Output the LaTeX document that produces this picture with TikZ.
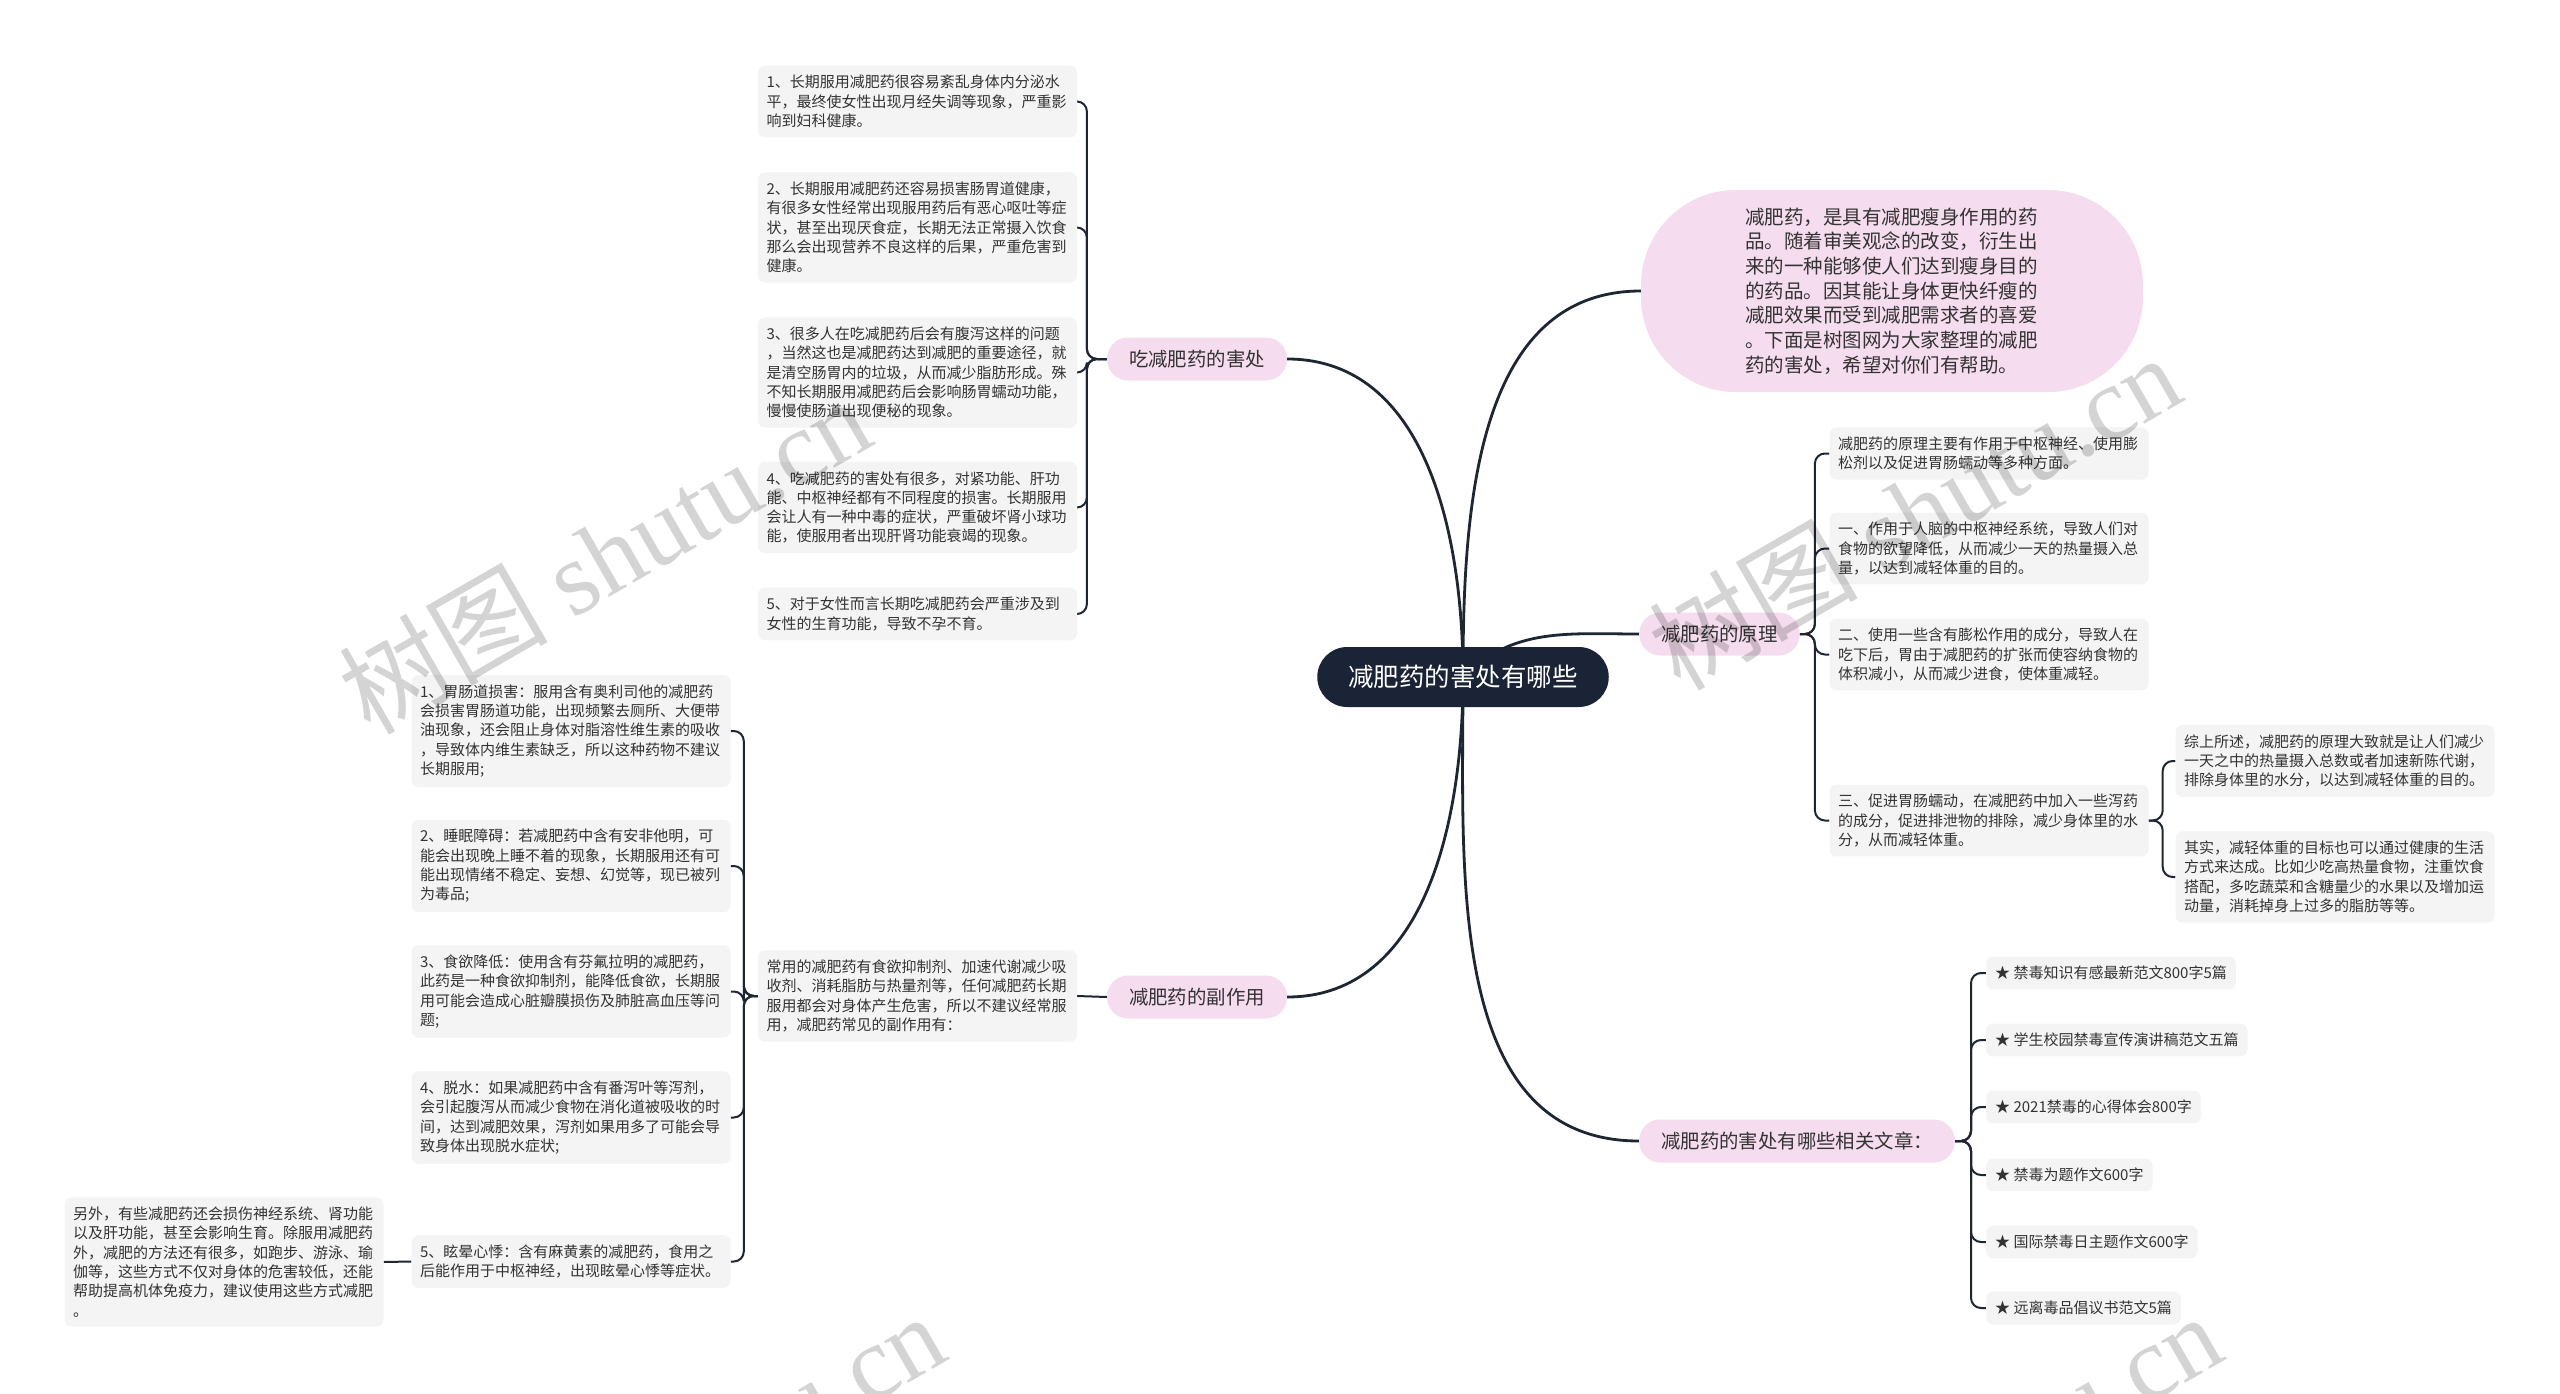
\documentclass[tikz,border=0pt]{standalone}
\usepackage{fontspec}
\setmainfont{Noto Sans CJK SC}
\newfontfamily\wmserif{Liberation Serif}
\usepackage{xcolor}
\usepackage{tikz}
\usetikzlibrary{positioning, backgrounds, calc}
\definecolor{navy}{HTML}{1A2436}
\definecolor{pinkbg}{HTML}{F5DCEE}
\definecolor{leafbg}{HTML}{F4F4F4}
\definecolor{txt}{HTML}{333333}
\definecolor{linec}{HTML}{1E2633}

\begin{document}
\begin{tikzpicture}[
    x=1pt, y=-1pt,
    root/.style={rectangle, fill=navy, text=white, rounded corners=30pt, minimum height=60pt, inner xsep=31pt, font=\fontsize{25.5}{30}\selectfont},
    mid/.style={rectangle, fill=pinkbg, text=txt, rounded corners=21pt, minimum height=43pt, inner xsep=22pt, font=\fontsize{19.4}{24}\selectfont},
    intro/.style={rectangle, fill=pinkbg, text=txt, rounded corners=95pt, minimum width=502pt, minimum height=202pt, text width=294pt, align=left, font=\fontsize{19.5}{24.7}\selectfont},
    leaf/.style={rectangle, fill=leafbg, text=txt, rounded corners=7pt, inner xsep=8.5pt, inner ysep=9.5pt, text width=302pt, align=left, font=\fontsize{15}{19.3}\selectfont},
    linkbox/.style={rectangle, fill=leafbg, text=txt, rounded corners=7pt, inner xsep=9pt, inner ysep=9.5pt, anchor=west, font=\fontsize{15}{19.3}\selectfont},
    trunk/.style={draw=linec, line width=2.8pt},
    twig/.style={draw=linec, line width=2pt, rounded corners=10pt},
    wmark/.style={text=black, opacity=0.17, rotate=30, font=\fontsize{105}{105}\selectfont}
]
\useasboundingbox (0,0) rectangle (2560,1394);

\node[root] (main) at (1463,677) {减肥药的害处有哪些};

\node[mid] (eat) at (1197,359) {吃减肥药的害处};
\node[leaf] (eat1) at (917.5,101.5) {1、长期服用减肥药很容易紊乱身体内分泌水\\平，最终使女性出现月经失调等现象，严重影\\响到妇科健康。};
\node[leaf] (eat2) at (917.5,227.5) {2、长期服用减肥药还容易损害肠胃道健康，\\有很多女性经常出现服用药后有恶心呕吐等症\\状，甚至出现厌食症，长期无法正常摄入饮食\\那么会出现营养不良这样的后果，严重危害到\\健康。};
\node[leaf] (eat3) at (917.5,372.5) {3、很多人在吃减肥药后会有腹泻这样的问题\\，当然这也是减肥药达到减肥的重要途径，就\\是清空肠胃内的垃圾，从而减少脂肪形成。殊\\不知长期服用减肥药后会影响肠胃蠕动功能，\\慢慢使肠道出现便秘的现象。};
\node[leaf] (eat4) at (917.5,507.5) {4、吃减肥药的害处有很多，对紧功能、肝功\\能、中枢神经都有不同程度的损害。长期服用\\会让人有一种中毒的症状，严重破坏肾小球功\\能，使服用者出现肝肾功能衰竭的现象。};
\node[leaf] (eat5) at (917.5,614) {5、对于女性而言长期吃减肥药会严重涉及到\\女性的生育功能，导致不孕不育。};

\node[mid] (side) at (1197,997) {减肥药的副作用};
\node[leaf] (info) at (917.5,996) {常用的减肥药有食欲抑制剂、加速代谢减少吸\\收剂、消耗脂肪与热量剂等，任何减肥药长期\\服用都会对身体产生危害，所以不建议经常服\\用，减肥药常见的副作用有：};
\node[leaf] (side1) at (571,731) {1、胃肠道损害：服用含有奥利司他的减肥药\\会损害胃肠道功能，出现频繁去厕所、大便带\\油现象，还会阻止身体对脂溶性维生素的吸收\\，导致体内维生素缺乏，所以这种药物不建议\\长期服用;};
\node[leaf] (side2) at (571,866) {2、睡眠障碍：若减肥药中含有安非他明，可\\能会出现晚上睡不着的现象，长期服用还有可\\能出现情绪不稳定、妄想、幻觉等，现已被列\\为毒品;};
\node[leaf] (side3) at (571,991.5) {3、食欲降低：使用含有芬氟拉明的减肥药，\\此药是一种食欲抑制剂，能降低食欲，长期服\\用可能会造成心脏瓣膜损伤及肺脏高血压等问\\题;};
\node[leaf] (side4) at (571,1117.5) {4、脱水：如果减肥药中含有番泻叶等泻剂，\\会引起腹泻从而减少食物在消化道被吸收的时\\间，达到减肥效果，泻剂如果用多了可能会导\\致身体出现脱水症状;};
\node[leaf] (side5) at (571,1261.5) {5、眩晕心悸：含有麻黄素的减肥药，食用之\\后能作用于中枢神经，出现眩晕心悸等症状。};
\node[leaf] (other) at (224,1262) {另外，有些减肥药还会损伤神经系统、肾功能\\以及肝功能，甚至会影响生育。除服用减肥药\\外，减肥的方法还有很多，如跑步、游泳、瑜\\伽等，这些方式不仅对身体的危害较低，还能\\帮助提高机体免疫力，建议使用这些方式减肥\\。};

\node[intro] (lead) at (1892,291) {减肥药，是具有减肥瘦身作用的药\\品。随着审美观念的改变，衍生出\\来的一种能够使人们达到瘦身目的\\的药品。因其能让身体更快纤瘦的\\减肥效果而受到减肥需求者的喜爱\\。下面是树图网为大家整理的减肥\\药的害处，希望对你们有帮助。};

\node[mid] (prin) at (1719.5,634) {减肥药的原理};
\node[leaf] (prin1) at (1989,453.5) {减肥药的原理主要有作用于中枢神经、使用膨\\松剂以及促进胃肠蠕动等多种方面。};
\node[leaf] (prin2) at (1989,548.5) {一、作用于人脑的中枢神经系统，导致人们对\\食物的欲望降低，从而减少一天的热量摄入总\\量，以达到减轻体重的目的。};
\node[leaf] (prin3) at (1989,654.5) {二、使用一些含有膨松作用的成分，导致人在\\吃下后，胃由于减肥药的扩张而使容纳食物的\\体积减小，从而减少进食，使体重减轻。};
\node[leaf] (prin4) at (1989,820.5) {三、促进胃肠蠕动，在减肥药中加入一些泻药\\的成分，促进排泄物的排除，减少身体里的水\\分，从而减轻体重。};
\node[leaf] (sum1) at (2335,761) {综上所述，减肥药的原理大致就是让人们减少\\一天之中的热量摄入总数或者加速新陈代谢，\\排除身体里的水分，以达到减轻体重的目的。};
\node[leaf] (sum2) at (2335,877) {其实，减轻体重的目标也可以通过健康的生活\\方式来达成。比如少吃高热量食物，注重饮食\\搭配，多吃蔬菜和含糖量少的水果以及增加运\\动量，消耗掉身上过多的脂肪等等。};

\node[mid] (rel) at (1797,1141) {减肥药的害处有哪些相关文章：};
\node[linkbox] (rel1) at (1986,973) {★ 禁毒知识有感最新范文800字5篇};
\node[linkbox] (rel2) at (1986,1040) {★ 学生校园禁毒宣传演讲稿范文五篇};
\node[linkbox] (rel3) at (1986,1107) {★ 2021禁毒的心得体会800字};
\node[linkbox] (rel4) at (1986,1175) {★ 禁毒为题作文600字};
\node[linkbox] (rel5) at (1986,1242) {★ 国际禁毒日主题作文600字};
\node[linkbox] (rel6) at (1986,1308) {★ 远离毒品倡议书范文5篇};

\begin{scope}[on background layer]
\fill[white] (0,0) rectangle (2560,1394);
\draw[trunk] (main.center) .. controls +(0,-140) and +(140,0) .. (eat.east);
\draw[trunk] (main.center) .. controls +(0,140) and +(140,0) .. (side.east);
\draw[trunk] (main.center) .. controls +(0,-166) and +(-166,0) .. (lead.west);
\draw[trunk] (main.center) .. controls +(50,-50) and +(-70,0) .. (prin.west);
\draw[trunk] (main.center) .. controls +(0,194) and +(-194,0) .. (rel.west);

\draw[twig] (eat.west) -- ++(-20,0) |- (eat1.east);
\draw[twig] (eat.west) -- ++(-20,0) |- (eat2.east);
\draw[twig] (eat.west) -- ++(-20,0) |- (eat3.east);
\draw[twig] (eat.west) -- ++(-20,0) |- (eat4.east);
\draw[twig] (eat.west) -- ++(-20,0) |- (eat5.east);

\draw[twig] (side.west) -- (info.east);
\draw[twig] (info.west) -- ++(-14,0) |- (side1.east);
\draw[twig] (info.west) -- ++(-14,0) |- (side2.east);
\draw[twig] (info.west) -- ++(-14,0) |- (side3.east);
\draw[twig] (info.west) -- ++(-14,0) |- (side4.east);
\draw[twig] (info.west) -- ++(-14,0) |- (side5.east);
\draw[twig] (side5.west) -- (other.east);

\draw[twig] (prin.east) -- ++(15,0) |- (prin1.west);
\draw[twig] (prin.east) -- ++(15,0) |- (prin2.west);
\draw[twig] (prin.east) -- ++(15,0) |- (prin3.west);
\draw[twig] (prin.east) -- ++(15,0) |- (prin4.west);
\draw[twig] (prin4.east) -- ++(14,0) |- (sum1.west);
\draw[twig] (prin4.east) -- ++(14,0) |- (sum2.west);

\draw[twig] (rel.east) -- ++(16,0) |- (rel1.west);
\draw[twig] (rel.east) -- ++(16,0) |- (rel2.west);
\draw[twig] (rel.east) -- ++(16,0) |- (rel3.west);
\draw[twig] (rel.east) -- ++(16,0) |- (rel4.west);
\draw[twig] (rel.east) -- ++(16,0) |- (rel5.west);
\draw[twig] (rel.east) -- ++(16,0) |- (rel6.west);
\end{scope}

\node[wmark] (wm1) at (604,555) {树图 {\wmserif shutu.cn}};
\node[wmark] (wm2) at (1914,511) {树图 {\wmserif shutu.cn}};
\node[wmark] (wm3) at (678,1470) {树图 {\wmserif shutu.cn}};
\node[wmark] (wm4) at (1955,1470) {树图 {\wmserif shutu.cn}};
\end{tikzpicture}
\end{document}
